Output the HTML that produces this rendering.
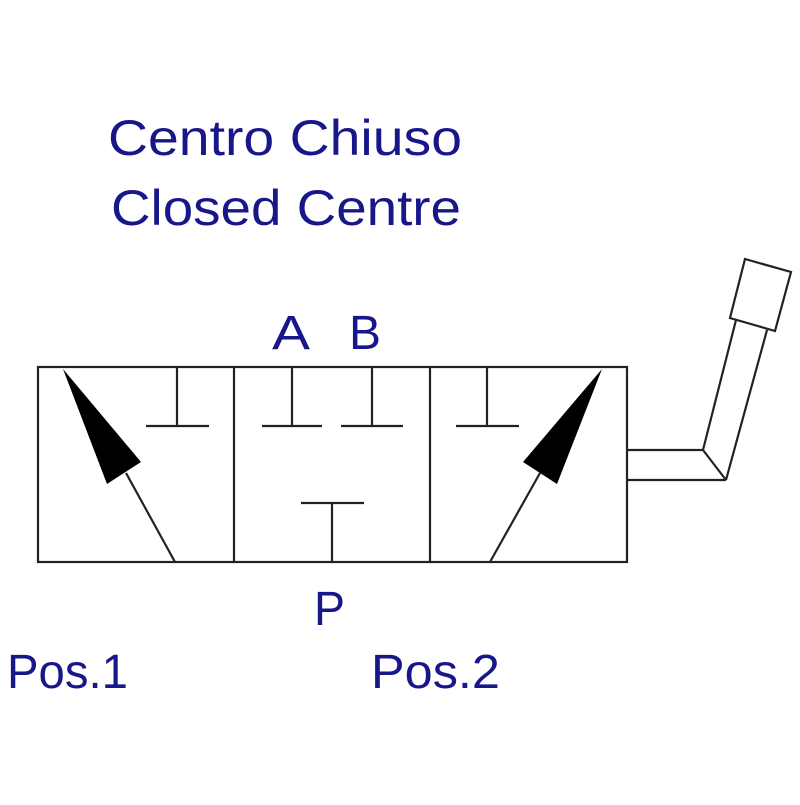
<!DOCTYPE html>
<html><head><style>html,body{margin:0;padding:0;background:#fff}</style></head>
<body>
<svg width="800" height="800" viewBox="0 0 800 800" xmlns="http://www.w3.org/2000/svg">
<rect width="800" height="800" fill="#fff"/>
<g font-family="Liberation Sans, sans-serif" fill="#17178a">
<text x="108" y="155" font-size="50" textLength="354" lengthAdjust="spacingAndGlyphs">Centro Chiuso</text>
<text x="111" y="225" font-size="50" textLength="350" lengthAdjust="spacingAndGlyphs">Closed Centre</text>
<text x="272" y="349" font-size="48" textLength="38" lengthAdjust="spacingAndGlyphs">A</text>
<text x="349" y="349" font-size="48" textLength="32" lengthAdjust="spacingAndGlyphs">B</text>
<text x="314" y="625" font-size="48" textLength="31" lengthAdjust="spacingAndGlyphs">P</text>
<text x="7" y="688" font-size="48" textLength="121" lengthAdjust="spacingAndGlyphs">Pos.1</text>
<text x="371" y="688" font-size="48" textLength="129" lengthAdjust="spacingAndGlyphs">Pos.2</text>
</g>
<g stroke="#222" stroke-width="2.2" fill="none">
<rect x="38" y="367" width="589" height="195"/>
<line x1="234" y1="367" x2="234" y2="562"/>
<line x1="430" y1="367" x2="430" y2="562"/>
<line x1="177" y1="367" x2="177" y2="426"/><line x1="146" y1="426" x2="209" y2="426"/>
<line x1="292" y1="367" x2="292" y2="426"/><line x1="262" y1="426" x2="322" y2="426"/>
<line x1="372" y1="367" x2="372" y2="426"/><line x1="341" y1="426" x2="403" y2="426"/>
<line x1="487" y1="367" x2="487" y2="426"/><line x1="456" y1="426" x2="519" y2="426"/>
<line x1="332" y1="562" x2="332" y2="503"/><line x1="301" y1="503" x2="364" y2="503"/>
<line x1="126" y1="473" x2="175" y2="562"/>
<line x1="540" y1="473" x2="490" y2="562"/>
<line x1="627" y1="450" x2="703" y2="450"/>
<line x1="627" y1="480" x2="726" y2="480"/>
<line x1="703" y1="450" x2="726" y2="480"/>
<line x1="703" y1="450" x2="736" y2="320"/>
<line x1="726" y1="480" x2="767" y2="330"/>
<polygon points="745,259 791,272 775,331 730,318" fill="#fff"/>
</g>
<polygon points="63,369 141,462 107,484" fill="#000"/>
<polygon points="602,369 523,462 557,484" fill="#000"/>
</svg>
</body></html>
